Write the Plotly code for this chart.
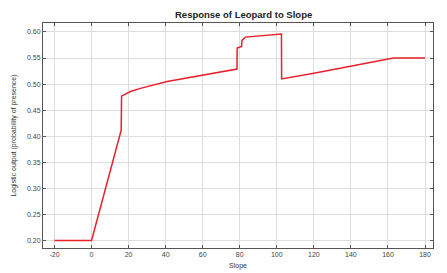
import plotly.graph_objects as go

slope = [-20, 0, 16.0, 16.2, 21, 26.4, 40.8, 60.5, 78.5, 78.6, 81.0, 81.2, 83.0, 102.5, 102.6, 120, 140, 163, 180]
response = [0.201, 0.201, 0.412, 0.477, 0.486, 0.492, 0.505, 0.518, 0.529, 0.569, 0.572, 0.584, 0.590, 0.596, 0.510, 0.521, 0.535, 0.550, 0.550]

x_ticks = [-20, 0, 20, 40, 60, 80, 100, 120, 140, 160, 180]
y_ticks = [0.20, 0.25, 0.30, 0.35, 0.40, 0.45, 0.50, 0.55, 0.60]

fig = go.Figure()
fig.add_trace(go.Scatter(x=slope, y=response, mode="lines",
                         line=dict(color="#e8202a", width=1.5), showlegend=False))

axis_common = dict(showline=True, linecolor="#555555", linewidth=1, mirror="ticks",
                   ticks="inside", ticklen=3, tickcolor="#555555", automargin=False,
                   showgrid=True, gridcolor="#dddddd", gridwidth=1, zeroline=False,
                   tickfont=dict(family="Liberation Sans, Arial", size=7, color="#444444"))

fig.update_layout(
    width=447, height=273,
    margin=dict(l=43, r=14, t=23, b=25),
    paper_bgcolor="white", plot_bgcolor="white",
    title=dict(text="<b>Response of Leopard to Slope</b>", x=0.545, xanchor="center",
               y=0.945, yanchor="middle",
               font=dict(family="Liberation Sans, Arial", size=9.5, color="#222222")),
    xaxis=dict(range=[-26.2, 184.3], tickvals=x_ticks, ticktext=[str(v) for v in x_ticks],
               title=dict(text="Slope", standoff=5,
                          font=dict(family="Liberation Sans, Arial", size=7, color="#333333")),
               **axis_common),
    yaxis=dict(range=[0.1866, 0.617], tickvals=y_ticks, ticktext=[f"{v:.2f}" for v in y_ticks],
               title=dict(text="Logistic output (probability of presence)", standoff=9,
                          font=dict(family="Liberation Sans, Arial", size=7, color="#333333")),
               **axis_common),
)

fig.write_html("out.html", config={"displayModeBar": False},
               post_script="document.body.style.margin='0';document.body.style.padding='0';")
